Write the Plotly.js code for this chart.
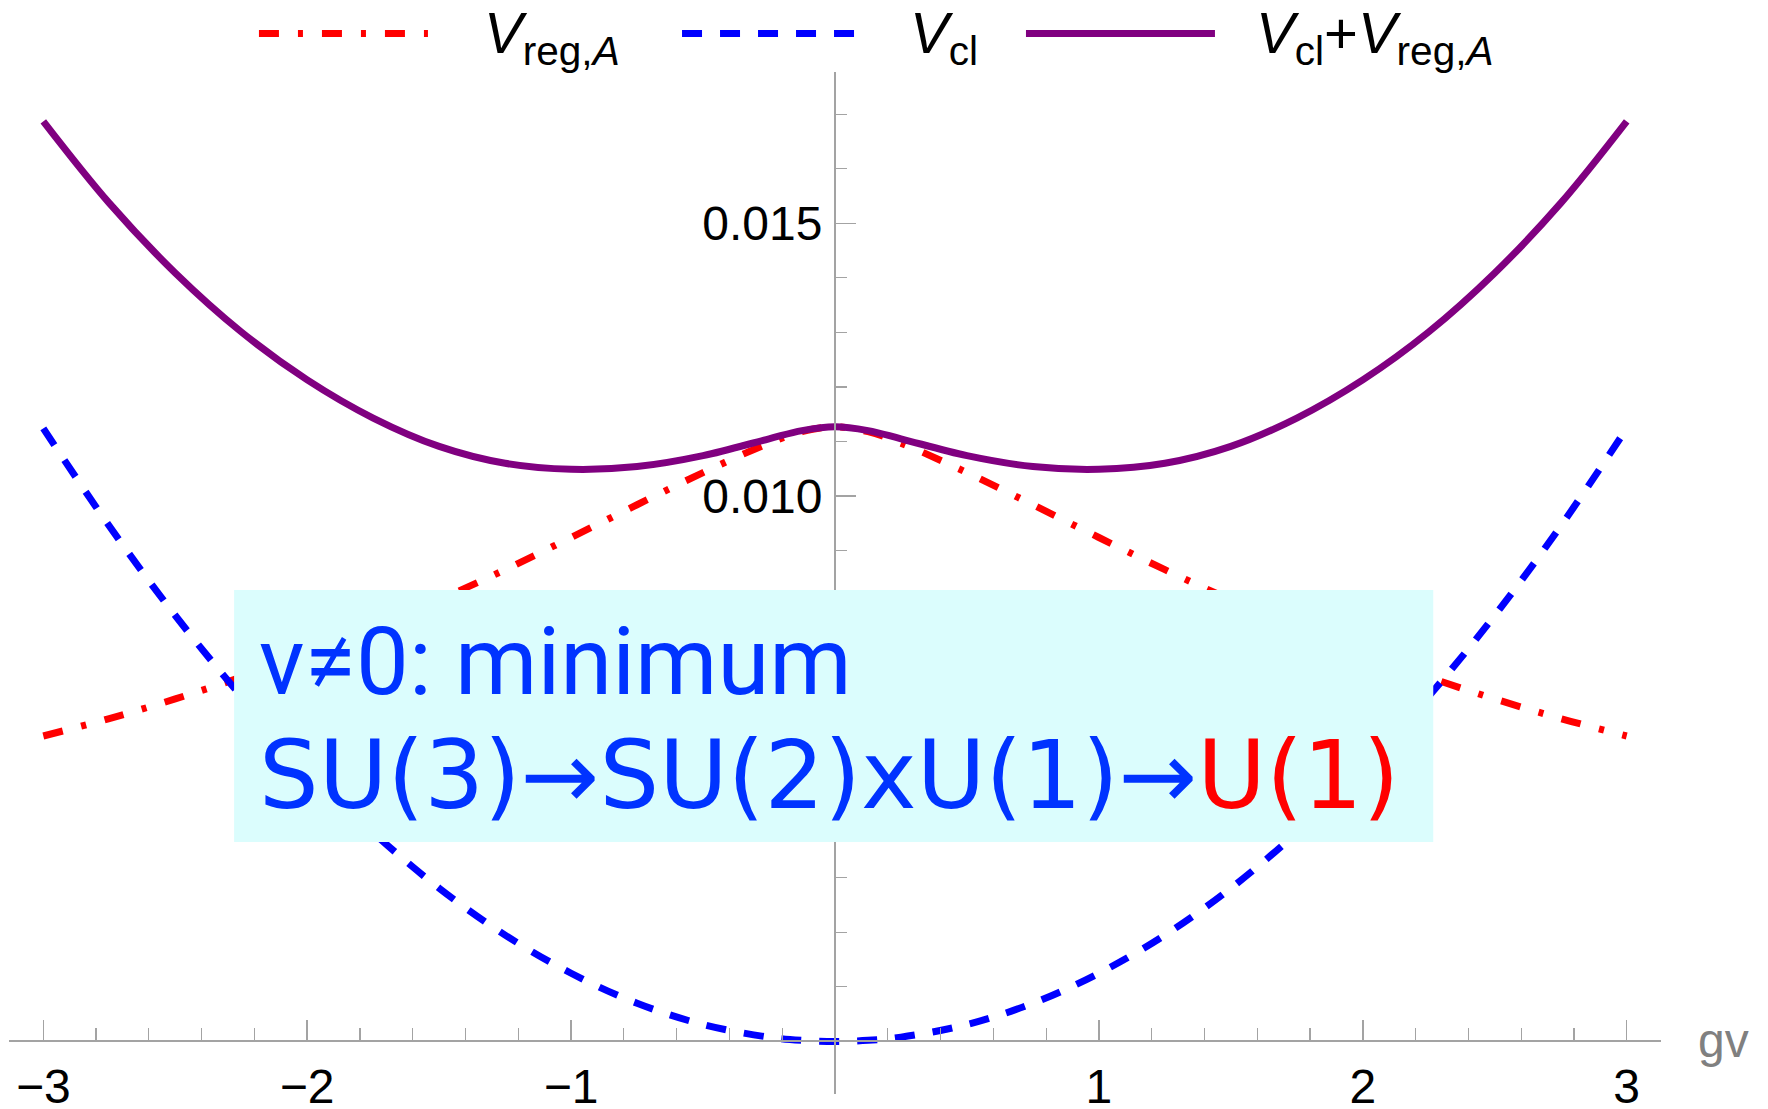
<!DOCTYPE html>
<html>
<head>
<meta charset="utf-8">
<script src="https://cdn.plot.ly/plotly-3.0.1.min.js"></script>
<style>
html,body{margin:0;padding:0;background:#fff;}
#chart{width:1768px;height:1109px;}
</style>
</head>
<body>
<div id="chart"></div>
<script>
// gv values
const gv = [-3, -2.75, -2.5, -2.25, -2, -1.75, -1.5, -1.25, -1, -0.75, -0.5, -0.25, -0.125, 0,
            0.125, 0.25, 0.5, 0.75, 1, 1.25, 1.5, 1.75, 2, 2.25, 2.5, 2.75, 3];
// V_reg,A (red dot-dashed)
const vRegA = [0.0056, 0.00592, 0.00628, 0.00668, 0.00713, 0.0076, 0.0081, 0.00865, 0.00924, 0.00984, 0.01043, 0.01097, 0.01118, 0.01127,
               0.01118, 0.01097, 0.01043, 0.00984, 0.00924, 0.00865, 0.0081, 0.0076, 0.00713, 0.00668, 0.00628, 0.00592, 0.0056];
// V_cl (blue dashed)
const vCl = [0.01124, 0.00945, 0.00781, 0.00633, 0.005, 0.00383, 0.00281, 0.00195, 0.00125, 0.0007, 0.00031, 0.000078, 0.00002, 0,
             0.00002, 0.000078, 0.00031, 0.0007, 0.00125, 0.00195, 0.00281, 0.00383, 0.005, 0.00633, 0.00781, 0.00945, 0.01124];
// V_cl + V_reg,A (purple solid)
const vSum = [0.01687, 0.01537, 0.01409, 0.01301, 0.01213, 0.01143, 0.01091, 0.0106, 0.01049, 0.01054, 0.01074, 0.01105, 0.0112, 0.01127,
              0.0112, 0.01105, 0.01074, 0.01054, 0.01049, 0.0106, 0.01091, 0.01143, 0.01213, 0.01301, 0.01409, 0.01537, 0.01687];

const xTickVals = [-3, -2, -1, 1, 2, 3];
const xTickText = ['\u22123', '\u22122', '\u22121', '1', '2', '3'];
const yTickVals = [0.005, 0.010, 0.015];
const yTickText = ['', '0.010', '0.015'];   // 0.005 is hidden behind the text box

const seriesNames = ['<i>V</i><sub>reg,<i>A</i></sub>', '<i>V</i><sub>cl</sub>', '<i>V</i><sub>cl</sub>+<i>V</i><sub>reg,<i>A</i></sub>'];
const seriesColors = ['#FF0000', '#0000FF', '#800080'];
const seriesDash = ['20px,19px,5px,19px', '20px,18px', 'solid'];

const boxLine1 = 'v\u22600: minimum';
const boxLine2 = 'SU(3)\u2192SU(2)xU(1)\u2192<span style="color:#FF0000">U(1)</span>';

const traces = [
  {x: gv, y: vRegA, name: seriesNames[0]},
  {x: gv, y: vCl, name: seriesNames[1]},
  {x: gv, y: vSum, name: seriesNames[2]}
].map((t, i) => Object.assign(t, {
  type: 'scatter', mode: 'lines', showlegend: false, hoverinfo: 'skip',
  line: {color: seriesColors[i], width: 7, dash: seriesDash[i], shape: 'spline', smoothing: 1}
}));

const axisGray = '#a3a3a3';
const tickFont = {family: 'Liberation Sans, Arial, sans-serif', size: 48, color: '#000'};

// legend geometry (paper coords)
const legLineY = 1.0377;
const legTextY = 1.034;
const legSamples = [[0.1513, 0.2536], [0.4074, 0.5133], [0.6156, 0.7300]];
const legTextX = [0.2863, 0.5442, 0.7536];

const shapes = [
  {type: 'rect', xref: 'x', yref: 'y', x0: -2.277, x1: 2.267, y0: 0.003656, y1: 0.008277,
   fillcolor: '#DBFDFD', line: {width: 0}, layer: 'above'}
];
legSamples.forEach((s, i) => shapes.push({
  type: 'line', xref: 'paper', yref: 'paper', x0: s[0], x1: s[1], y0: legLineY, y1: legLineY,
  line: {color: seriesColors[i], width: 7, dash: seriesDash[i]}, layer: 'above'
}));

const annotations = [];
legTextX.forEach((x, i) => annotations.push({
  xref: 'paper', yref: 'paper', x: x, y: legTextY, xanchor: 'left', yanchor: 'middle',
  text: seriesNames[i], showarrow: false,
  font: {family: 'Liberation Sans, Arial, sans-serif', size: 58, color: '#000'}
}));
annotations.push({
  xref: 'x', yref: 'y', x: -2.191, y: 0.00696, xanchor: 'left', yanchor: 'middle',
  text: boxLine1, showarrow: false,
  font: {family: 'Roboto, DejaVu Sans, sans-serif', size: 94, color: '#0033FF'}
});
annotations.push({
  xref: 'x', yref: 'y', x: -2.191, y: 0.00488, xanchor: 'left', yanchor: 'middle',
  text: boxLine2, showarrow: false,
  font: {family: 'DejaVu Sans, sans-serif', size: 94, color: '#0033FF'}
});
annotations.push({
  xref: 'paper', yref: 'paper', x: 1.038, y: 0.0525, xanchor: 'center', yanchor: 'middle',
  text: 'gv', showarrow: false,
  font: {family: 'Liberation Sans, Arial, sans-serif', size: 48, color: '#808080'}
});

const layout = {
  width: 1768, height: 1109,
  margin: {l: 9, r: 107, t: 72, b: 15, pad: 0},
  paper_bgcolor: '#fff', plot_bgcolor: '#fff',
  showlegend: false,
  xaxis: {
    range: [-3.13, 3.13], anchor: 'free', position: 0.05144,
    showline: true, linecolor: axisGray, linewidth: 2,
    showgrid: false, zeroline: false,
    ticks: 'inside', ticklen: 20, tickwidth: 1.5, tickcolor: axisGray,
    tickmode: 'array', tickvals: xTickVals, ticktext: xTickText,
    tickfont: tickFont, ticklabelstandoff: 3,
    minor: {ticks: 'inside', ticklen: 12, tickwidth: 1.2, tickcolor: axisGray, dtick: 0.2, tick0: 0, showgrid: false}
  },
  yaxis: {
    range: [-0.000964, 0.017775], anchor: 'free', position: 0.5,
    showline: true, linecolor: axisGray, linewidth: 2,
    showgrid: false, zeroline: false,
    ticks: 'inside', ticklen: 20, tickwidth: 1.5, tickcolor: axisGray,
    tickmode: 'array', tickvals: yTickVals, ticktext: yTickText,
    tickfont: tickFont, ticklabelstandoff: 2,
    minor: {ticks: 'inside', ticklen: 11, tickwidth: 1.2, tickcolor: axisGray, dtick: 0.001, tick0: 0, showgrid: false}
  },
  shapes: shapes,
  annotations: annotations
};

Plotly.newPlot('chart', traces, layout, {staticPlot: true, displayModeBar: false});
</script>
</body>
</html>
